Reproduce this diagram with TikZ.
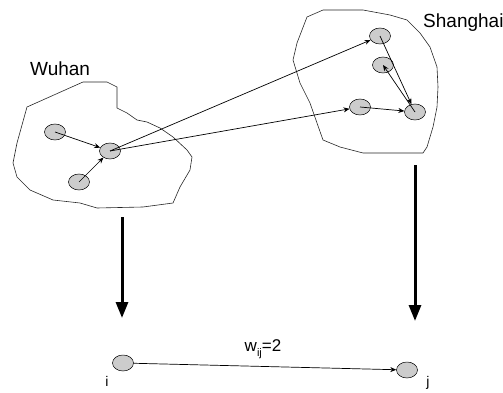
\documentclass[tikz,border=0pt]{standalone}
\usepackage{fontspec}
\setmainfont{Liberation Sans}
\usetikzlibrary{shapes.geometric,arrows.meta}
\tikzset{
	city/.style={draw, line width=0.6pt, gray!30!black},
	ellip/.style={ellipse, draw, fill=gray!40, line width=0.5pt, minimum width=21pt, minimum height=16pt, inner sep=0pt},
	link/.style={-{Stealth[length=6pt,width=5pt]}, line width=0.7pt},
	bigarrow/.style={-{Triangle[length=16pt,width=12pt]}, line width=3pt},
}
\begin{document}
\begin{tikzpicture}[x=1pt,y=-1pt]
		\useasboundingbox (0,0) rectangle (503,393);
		% regions
		\draw[city] (27,107) -- (83,82) -- (107,82) -- (117,87) -- (117,108) -- (127,113) -- (137,120) -- (147,122) -- (160,128) -- (173,137) -- (187,150) -- (192,157) -- (190,170) -- (180,187) -- (173,203) -- (143,207) -- (97,208) -- (80,203) -- (53,200) -- (30,190) -- (17,177) -- (13,163) -- (17,143) -- cycle;
		\draw[city] (323,10) -- (363,10) -- (390,15) -- (407,20) -- (420,33) -- (430,47) -- (437,67) -- (438,87) -- (437,107) -- (433,127) -- (427,147) -- (423,153) -- (363,153) -- (340,147) -- (323,140) -- (317,123) -- (310,103) -- (300,83) -- (293,60) -- (297,43) -- (307,17) -- cycle;
		\node(wuhan)[anchor=west, font=\fontsize{19}{21}\selectfont, inner sep=0pt] at (30,69) {Wuhan};
		\node(shanghai)[anchor=west, font=\fontsize{19}{21}\selectfont, inner sep=0pt] at (423,23) {Shanghai};
		% Wuhan nodes
		\node(wa)[ellip] at (55,132) {};
		\node(hub)[ellip] at (110,151) {};
		\node(wc)[ellip] at (79,182) {};
		% Shanghai nodes
		\node(sa)[ellip] at (380,36) {};
		\node(sb)[ellip] at (383,65) {};
		\node(sc)[ellip] at (360,107) {};
		\node(sd)[ellip] at (415,112) {};
		\draw[link] (wa.center) -- (hub);
		\draw[link] (wc.center) -- (hub);
		\draw[link] (hub.center) -- (sa);
		\draw[link] (hub.center) -- (sc);
		\draw[link] (sa.center) -- (sd);
		\draw[link] (sc.center) -- (sd);
		\draw[link] (sd.center) -- (sb.center);
		% aggregation
		\coordinate(lt) at (122,217);
		\coordinate(lb) at (122,318);
		\coordinate(rt) at (415,165);
		\coordinate(rb) at (415,321);
		\draw[bigarrow] (lt) -- (lb);
		\draw[bigarrow] (rt) -- (rb);
		% city graph
		\node(ni)[ellip] at (123,363) {};
		\node(nj)[ellip] at (407,370) {};
		\node(li)[anchor=center, font=\fontsize{14}{16}\selectfont] at (107,381) {i};
		\node(lj)[anchor=center, font=\fontsize{14}{16}\selectfont] at (428,383) {j};
		\draw[link] (ni) -- (nj);
		\node(w)[anchor=center, font=\fontsize{17}{19}\selectfont] at (263,349) {w\raisebox{-5pt}{\fontsize{11}{12}\selectfont ij}=2};
\end{tikzpicture}
\end{document}
